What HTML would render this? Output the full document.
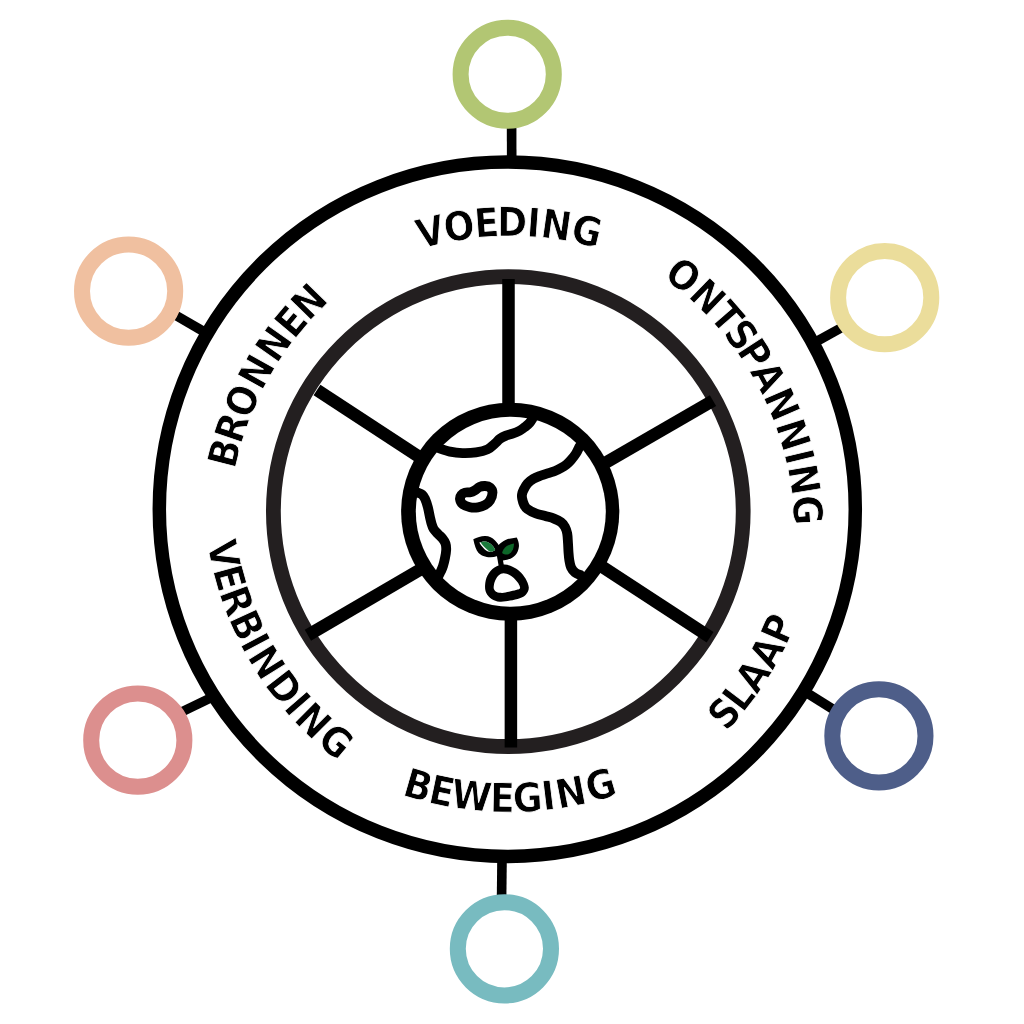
<!DOCTYPE html>
<html lang="nl">
<head>
<meta charset="utf-8">
<style>
html,body{margin:0;padding:0;background:#fff;}
body{width:1024px;height:1024px;overflow:hidden;}
svg{display:block;will-change:transform;}
.lbl{font-family:"DejaVu Sans Condensed", "DejaVu Sans", "Liberation Sans", sans-serif;font-weight:700;font-stretch:condensed;fill:#000;font-kerning:none;stroke:#fff;stroke-width:0.8;stroke-linejoin:miter;}
</style>
</head>
<body>
<svg width="1024" height="1024" viewBox="0 0 1024 1024">
<rect width="1024" height="1024" fill="#fff"/>
<g fill="none" stroke="#000" stroke-linecap="butt">
<line x1="511.6" y1="126" x2="511.7" y2="158" stroke-width="9.6"/>
<line x1="175.0" y1="314.8" x2="204.5" y2="332.0" stroke-width="9.6"/>
<line x1="816.5" y1="341.5" x2="842.0" y2="327.4" stroke-width="9.6"/>
<line x1="182.0" y1="711.8" x2="211.0" y2="697.7" stroke-width="9.6"/>
<line x1="806.5" y1="692.6" x2="834.0" y2="709.9" stroke-width="9.6"/>
<line x1="502.0" y1="860" x2="501.6" y2="897" stroke-width="9.6"/>
</g>
<g fill="#fff">
<circle cx="507.2" cy="74.25" r="46.6" stroke="#b2c673" stroke-width="16.0"/>
<circle cx="128.6" cy="291.1" r="46.6" stroke="#f0c0a0" stroke-width="16.0"/>
<circle cx="884.7" cy="297.65" r="46.6" stroke="#ebdd9b" stroke-width="16.0"/>
<circle cx="137.8" cy="740.15" r="46.6" stroke="#dc8f8e" stroke-width="16.0"/>
<circle cx="878.9" cy="735.9" r="46.6" stroke="#4e5e89" stroke-width="16.0"/>
<circle cx="504.4" cy="948.8" r="46.6" stroke="#78bbc0" stroke-width="16.0"/>
</g>
<ellipse cx="507.3" cy="509.25" rx="348.0" ry="347.2" fill="none" stroke="#000" stroke-width="13.5"/>
<circle cx="508.3" cy="511.6" r="234.9" fill="none" stroke="#231f20" stroke-width="14.8"/>
<g fill="none" stroke="#000" stroke-linecap="butt">
<line x1="508.5" y1="279.0" x2="508.5" y2="410.0" stroke-width="12.5"/>
<line x1="510.9" y1="612.0" x2="510.9" y2="747.5" stroke-width="12.5"/>
<line x1="317.0" y1="390.0" x2="422.0" y2="458.7" stroke-width="12.5"/>
<line x1="713.0" y1="400.6" x2="601.0" y2="465.4" stroke-width="12.5"/>
<line x1="307.9" y1="635.25" x2="424.0" y2="567.4" stroke-width="12.5"/>
<line x1="710.1" y1="637.25" x2="598.0" y2="563.9" stroke-width="12.5"/>
</g>
<g id="globe" fill="none" stroke="#000" stroke-linecap="round" stroke-linejoin="round">
<circle cx="510.2" cy="511.75" r="109.1" fill="#000" stroke="none"/>
<circle cx="510.8" cy="511.75" r="95.0" fill="#fff" stroke="none"/>
<g stroke-width="9.8">
<path d="M438.70 448.10C440.58 448.68 446.03 450.77 450.00 451.60C453.97 452.43 458.17 452.97 462.50 453.10C466.83 453.23 471.83 453.02 476.00 452.40C480.17 451.78 484.42 450.80 487.50 449.40C490.58 448.00 492.42 445.77 494.50 444.00C496.58 442.23 498.08 440.20 500.00 438.80C501.92 437.40 503.92 436.45 506.00 435.60C508.08 434.75 510.25 434.50 512.50 433.70C514.75 432.90 517.42 431.93 519.50 430.80C521.58 429.67 523.33 428.20 525.00 426.90C526.67 425.60 528.27 424.37 529.50 423.00C530.73 421.63 531.92 419.42 532.40 418.70"/>
<path d="M417.50 492.50C418.25 492.83 420.75 493.45 422.00 494.50C423.25 495.55 424.03 496.72 425.00 498.80C425.97 500.88 426.97 503.92 427.80 507.00C428.63 510.08 429.38 514.55 430.00 517.30C430.62 520.05 430.92 521.60 431.50 523.50C432.08 525.40 432.42 526.95 433.50 528.70C434.58 530.45 436.50 532.37 438.00 534.00C439.50 535.63 441.25 536.92 442.50 538.50C443.75 540.08 444.88 541.62 445.50 543.50C446.12 545.38 446.28 547.38 446.20 549.80C446.12 552.22 445.53 555.30 445.00 558.00C444.47 560.70 443.67 563.83 443.00 566.00C442.33 568.17 441.72 569.43 441.00 571.00C440.28 572.57 439.08 574.67 438.70 575.40"/>
<path d="M579.70 446.20C579.08 447.42 577.45 451.20 576.00 453.50C574.55 455.80 572.58 458.17 571.00 460.00C569.42 461.83 568.17 463.15 566.50 464.50C564.83 465.85 562.92 467.02 561.00 468.10C559.08 469.18 557.08 470.17 555.00 471.00C552.92 471.83 550.83 472.35 548.50 473.10C546.17 473.85 543.50 474.57 541.00 475.50C538.50 476.43 535.75 477.37 533.50 478.70C531.25 480.03 529.17 481.62 527.50 483.50C525.83 485.38 524.42 488.17 523.50 490.00C522.58 491.83 522.22 493.03 522.00 494.50C521.78 495.97 521.87 497.13 522.20 498.80C522.53 500.47 523.17 502.83 524.00 504.50C524.83 506.17 525.20 507.30 527.20 508.80C529.20 510.30 532.87 512.27 536.00 513.50C539.13 514.73 543.00 515.35 546.00 516.20C549.00 517.05 551.50 517.60 554.00 518.60C556.50 519.60 559.17 520.80 561.00 522.20C562.83 523.60 563.97 525.12 565.00 527.00C566.03 528.88 566.70 530.83 567.20 533.50C567.70 536.17 567.78 539.88 568.00 543.00C568.22 546.12 568.28 549.37 568.50 552.20C568.72 555.03 568.88 557.50 569.30 560.00C569.72 562.50 570.05 565.12 571.00 567.20C571.95 569.28 573.33 571.13 575.00 572.50C576.67 573.87 580.00 574.92 581.00 575.40"/>
<path d="M460.00 499.00C460.20 500.50 460.83 502.63 462.50 504.00C464.17 505.37 467.42 506.65 470.00 507.20C472.58 507.75 475.50 507.67 478.00 507.30C480.50 506.93 483.00 506.13 485.00 505.00C487.00 503.87 488.75 502.58 490.00 500.50C491.25 498.42 492.50 494.67 492.50 492.50C492.50 490.33 491.25 488.58 490.00 487.50C488.75 486.42 486.75 486.08 485.00 486.00C483.25 485.92 481.17 486.28 479.50 487.00C477.83 487.72 476.50 489.42 475.00 490.30C473.50 491.18 472.17 491.92 470.50 492.30C468.83 492.68 466.53 492.15 465.00 492.60C463.47 493.05 462.13 493.93 461.30 495.00C460.47 496.07 459.80 497.50 460.00 499.00Z"/>
</g>
<path stroke="none" fill="#000" fill-rule="evenodd" d="M504.10 564.50C507.10 564.38 509.89 565.65 512.50 566.80C515.11 567.95 517.58 569.45 519.75 571.40C521.92 573.35 523.99 575.80 525.50 578.50C527.01 581.20 528.72 584.93 528.80 587.60C528.88 590.27 527.51 592.73 526.00 594.50C524.49 596.27 522.42 597.23 519.75 598.25C517.08 599.27 513.33 600.02 510.00 600.60C506.67 601.18 502.82 601.98 499.75 601.70C496.68 601.42 493.84 600.35 491.60 598.90C489.36 597.45 487.38 595.30 486.30 593.00C485.22 590.70 484.90 588.02 485.10 585.10C485.30 582.18 485.93 578.43 487.50 575.50C489.07 572.57 491.73 569.33 494.50 567.50C497.27 565.67 501.10 564.62 504.10 564.50ZM503.50 573.25C505.28 573.20 507.62 574.06 509.50 575.00C511.38 575.94 513.28 577.52 514.75 578.90C516.22 580.28 517.41 581.85 518.30 583.30C519.19 584.75 520.02 586.60 520.10 587.60C520.18 588.60 519.48 588.88 518.80 589.30C518.12 589.72 517.63 589.68 516.00 590.10C514.37 590.52 511.29 591.33 509.00 591.80C506.71 592.27 504.32 592.87 502.25 592.90C500.18 592.93 497.98 592.60 496.60 592.00C495.23 591.40 494.47 590.34 494.00 589.30C493.53 588.26 493.58 587.25 493.80 585.75C494.02 584.25 494.47 582.04 495.30 580.30C496.13 578.56 497.43 576.47 498.80 575.30C500.17 574.12 501.72 573.30 503.50 573.25Z"/>
<path d="M498.2 548L502 570" stroke-width="5.2" stroke-linecap="butt"/>
<g stroke="none" fill="#000">
<path d="M473.3 539.2C477 537.5 481 536.3 484.9 536.1C489 536 492.5 537.8 494.8 540.3C496.5 542 497.8 543.5 498.6 545C500.5 542.8 503 541 505.5 539.9C509 538.6 513 537.9 516.75 537.4C518.3 540.5 519.2 543.5 518.9 546.75C518.5 550 517.5 552.8 515.5 554.9C513.5 557 511 558.5 508.6 559.25C506.5 560 504.5 560.4 503 560.5L499.5 560L497.5 556C494 557.3 490 557.6 486.75 557C483 556.3 480.5 555 478.6 553C476 550 474.5 545 473.3 539.2Z"/>
<path fill="#fff" d="M479.3 542.6C481.5 541.6 483.5 541.3 485 541.4C487.5 541.6 489.5 542.8 491.1 544.25C492.8 545.8 494.3 547.8 495.2 549.9C493.5 551.2 491.3 551.9 489.25 551.75C486.5 551.3 484.8 549.7 483.4 548C481.5 546 480.2 544.5 479.3 542.6Z"/>
<path fill="#1b7a3b" d="M480.6 542.3C482.5 541.5 484 541.3 485 541.4C487.5 541.6 489.5 542.8 491.1 544.25C492.8 545.8 494.3 547.8 495.2 549.9C493.8 551 492 551.6 490.3 551.7C488 550.5 485.5 548.3 483.6 546.2C482.3 544.8 481.3 543.5 480.6 542.3Z"/>
<path fill="#0d6628" d="M513.9 543.6C514 545.5 513.7 547.5 513 549.25C512 551.5 510.5 553.2 508.6 554.25C506.5 554.9 504 554.5 502.1 553C502.6 550.5 504.3 548 506.75 546.1C509 544.7 511.5 544 513.9 543.6Z"/>
</g>
</g>
<text class="lbl" font-size="40.33" x="420.28 445.93 475.23 496.98 525.94 539.52 569.27" y="248.94 242.39 237.82 236.00 236.41 237.07 241.28" rotate="-14.05 -8.99 -4.10 0.41 4.03 8.03 13.34">VOEDING</text>
<text class="lbl" font-size="40.33" x="662.42 686.88 708.14 722.13 735.78 749.36 762.68 775.00 783.91 787.38 792.36" y="277.13 296.51 317.14 332.92 350.58 371.28 395.68 424.47 453.60 466.74 496.37" rotate="38.35 43.97 48.83 52.78 57.05 61.50 66.75 72.43 76.43 80.43 85.75">ONTSPANNING</text>
<text class="lbl" font-size="40.33" x="234.72 240.68 248.96 261.49 276.83 293.92 308.60" y="469.72 445.21 420.38 391.79 364.49 340.14 322.27" rotate="-75.92 -71.15 -66.38 -60.76 -55.08 -50.13 -45.49">BRONNEN</text>
<text class="lbl" font-size="40.33" x="401.31 427.07 450.04 489.70 513.40 543.26 558.50 590.24" y="795.00 802.41 807.63 811.89 812.48 810.55 808.94 802.70" rotate="16.05 11.79 6.61 1.12 -3.15 -6.89 -10.89 -16.21">BEWEGING</text>
<text class="lbl" font-size="40.33" x="207.08 212.48 218.75 228.17 239.61 246.58 263.76 282.53 292.42 315.40" y="542.93 569.76 592.66 618.56 643.13 656.78 684.25 708.34 720.04 742.80" rotate="78.66 74.28 69.86 65.40 62.10 58.10 52.55 48.93 44.94 39.62">VERBINDING</text>
<text class="lbl" font-size="40.33" x="726.34 742.81 757.05 772.69 786.00" y="732.36 713.73 695.21 671.19 646.48" rotate="-48.61 -52.74 -56.89 -61.71 -66.46">SLAAP</text>
</svg>
</body>
</html>
